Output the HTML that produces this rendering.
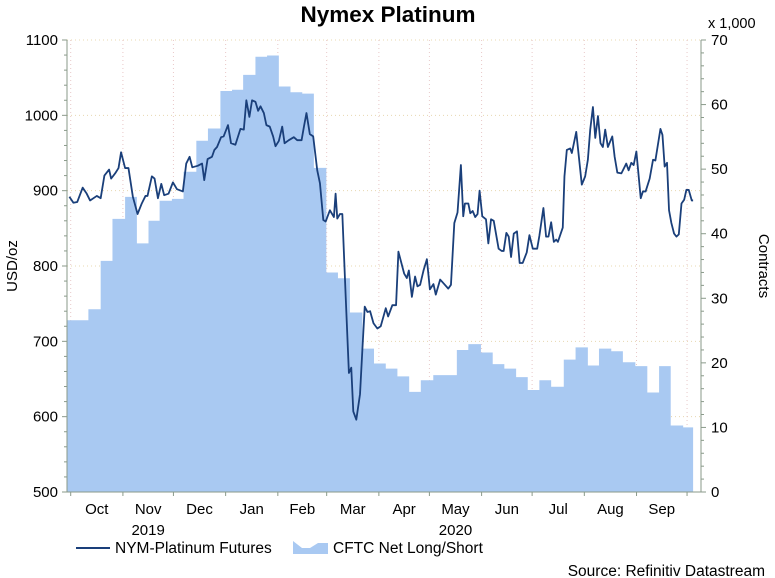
<!DOCTYPE html>
<html><head><meta charset="utf-8"><style>
html,body{margin:0;padding:0;background:#fff;width:775px;height:578px;overflow:hidden}
svg{display:block;font-family:"Liberation Sans",Arial,sans-serif}
</style></head><body>
<svg id="chart" width="775" height="578" viewBox="0 0 775 578">
<text x="388" y="22" text-anchor="middle" font-size="22.5" font-weight="bold" fill="#000">Nymex Platinum</text>
<text x="708" y="28" font-size="14.5" fill="#000">x 1,000</text>
<text transform="translate(17,266) rotate(-90)" text-anchor="middle" font-size="15" fill="#000">USD/oz</text>
<text transform="translate(759,266) rotate(90)" text-anchor="middle" font-size="15" fill="#000">Contracts</text>
<g id="grid"></g>
<g id="area"></g>
<g id="line"></g>
<g id="axes"></g>
<g>
<line x1="76" y1="548" x2="110" y2="548" stroke="#1a3f7a" stroke-width="2"/>
<text x="115" y="553" font-size="15.5" fill="#000">NYM-Platinum Futures</text>
<path d="M293,541 L302,548 L310,548 L318,543 L328,543 L328,554 L293,554 Z" fill="#a9c9f2"/>
<text x="333" y="553" font-size="15.5" fill="#000">CFTC Net Long/Short</text>
</g>
<text x="765" y="576" text-anchor="end" font-size="15.5" fill="#000">Source: Refinitiv Datastream</text>
</svg>
<script>
// day offsets from chart start (~Sep 29 2019)
const priceDays = [1.4,3.8,6.1,9.3,11.7,13.7,17.7,20.0,22.2,25.0,26.2,28.6,30.6,32.1,34.5,36.5,39.1,41.9,44.4,46.6,47.8,50.4,52.0,54.0,56.0,57.7,60.3,62.9,65.3,68.8,70.8,72.8,74.4,77.6,80.2,81.5,83.5,86.1,87.5,89.1,91.5,93.0,95.6,97.4,100.0,103.0,105.0,106.5,108.3,109.9,111.9,113.5,114.9,116.9,118.4,120.4,122.4,123.8,125.8,127.8,129.2,131.7,134.7,136.7,139.3,140.7,142.2,144.2,146.2,148.6,150.2,152.2,153.6,156.1,158.5,159.5,160.5,162.1,163.5,165.5,167.4,168.8,170.0,171.8,174.0,175.4,176.8,178.4,180.0,182.0,184.3,186.3,189.3,190.7,193.2,195.4,196.8,200.2,201.8,203.0,204.8,206.7,208.1,209.7,211.7,213.7,215.5,217.6,219.0,221.6,224.0,226.4,228.0,230.0,231.9,233.9,235.3,236.3,238.3,239.5,240.9,242.4,243.8,245.0,246.6,248.8,250.2,251.8,253.4,256.3,258.1,259.3,260.9,262.3,263.7,265.3,267.2,268.8,270.6,273.0,274.6,276.6,279.2,280.5,282.9,284.5,285.9,287.5,289.1,290.5,291.5,294.4,295.4,296.8,298.8,299.8,302.4,305.7,307.7,309.3,310.7,312.3,313.7,315.3,316.8,318.2,319.6,321.2,323.8,325.2,326.8,329.2,332.1,333.5,335.1,336.5,338.1,340.7,342.0,343.6,346.0,348.0,349.4,352.4,353.6,354.9,356.3,357.5,358.9,360.5,361.9,363.3,364.9,366.5,367.8,369.2,371.0,371.8];
const priceValues = [892,884,885,904,896,887,893,890,920,928,916,923,930,951,930,930,892,869,883,893,893,919,916,890,909,894,896,911,902,899,936,945,931,933,936,914,942,945,954,958,971,972,987,963,961,982,981,1020,998,1020,1018,1006,1012,1003,987,985,972,959,966,985,963,967,971,967,967,985,1003,975,972,927,910,861,859,874,865,896,863,869,869,759,658,665,607,596,630,689,746,739,740,724,717,720,744,733,748,748,819,790,784,794,759,786,773,775,794,809,769,776,762,782,776,770,775,857,871,934,866,883,883,870,873,865,869,900,866,862,830,862,860,823,820,820,844,839,812,843,846,804,804,818,841,823,823,840,877,839,839,858,832,835,832,851,919,954,956,950,978,908,919,941,981,1011,970,999,963,958,981,958,972,945,924,923,936,927,937,934,952,890,899,899,916,941,940,982,974,932,937,874,857,843,839,842,883,888,901,901,887,887];
const cftcStartDays = [0,12.7,20.0,27.0,34.5,41.5,48.4,55.0,62.3,69.2,76.8,83.7,91.1,98.0,104.6,111.9,118.8,125.8,132.7,139.7,146.6,154.0,160.9,168.0,175.4,182.3,189.3,196.2,203.2,210.1,217.5,224.5,231.5,238.3,245.8,252.8,259.7,266.7,273.6,280.5,287.5,295.0,302.0,309.3,315.9,323.2,330.1,337.5,344.6,351.6,358.5,365.9];
const cftcValues = [26.6,28.3,35.8,42.3,45.7,38.5,42.0,45.1,45.4,49.6,54.4,56.3,62.1,62.3,64.6,67.4,67.6,62.8,61.9,61.7,50.2,34.0,33.1,27.8,22.2,19.9,19.1,17.9,15.5,17.3,18.1,18.1,22.0,22.9,21.6,19.8,19.1,17.8,15.8,17.3,16.3,20.5,22.4,19.6,22.2,21.8,20.1,19.5,15.4,19.5,10.3,10.0];
const cftcEndDay = 371.8;
const leftTicks = [500,600,700,800,900,1000,1100];
const rightTicks = [0,10,20,30,40,50,60,70];
const monthLabels = ["Oct","Nov","Dec","Jan","Feb","Mar","Apr","May","Jun","Jul","Aug","Sep"];
const monthStartDays = [2.2,33.2,63.2,94.2,125.2,154.2,185.2,215.2,246.2,276.2,307.2,338.2,368.2];
const yearLabels = ["2019","2020"];
const yearLabelMonth = [1,7];

const NS="http://www.w3.org/2000/svg";
const X0=67, XR=701, YT=40, YB=492;
const xs=d=>X0+d*1.684;
const yL=v=>YB-(v-500)/600*(YB-YT);
const yR=v=>YB-v/70*(YB-YT);
function mk(tag,attrs,parent){const e=document.createElementNS(NS,tag);for(const k in attrs)e.setAttribute(k,attrs[k]);parent.appendChild(e);return e;}
const grid=document.getElementById('grid'),area=document.getElementById('area'),line=document.getElementById('line'),axes=document.getElementById('axes');

leftTicks.forEach(v=>{if(v>500){const g=mk('line',{x1:X0,x2:XR,y1:yL(v),y2:yL(v),stroke:'#e8d8b0','stroke-dasharray':'1,3'},grid);

}});
monthStartDays.forEach(d=>{const g=mk('line',{x1:xs(d),x2:xs(d),y1:YT,y2:YB,stroke:'#e8c8c8','stroke-dasharray':'1,3'},grid);

});

let p=`M${xs(cftcStartDays[0])},${YB}`;
cftcValues.forEach((v,i)=>{const a=xs(cftcStartDays[i]);const b=xs(i+1<cftcStartDays.length?cftcStartDays[i+1]:cftcEndDay);p+=` L${a},${yR(v)} L${b},${yR(v)}`;});
p+=` L${xs(cftcEndDay)},${YB} Z`;
const ap=mk('path',{d:p,fill:'#a9c9f2'},area);



const lp=mk('polyline',{points:priceDays.map((d,i)=>xs(d)+','+yL(priceValues[i])).join(' '),fill:'none',stroke:'#1a3f7a','stroke-width':1.8,'stroke-linejoin':'round'},line);



mk('line',{x1:X0,x2:X0,y1:YT,y2:YB,stroke:'#8a9a8a'},axes);
mk('line',{x1:XR,x2:XR,y1:YT,y2:YB,stroke:'#8a9a8a'},axes);
mk('line',{x1:X0,x2:XR,y1:YB,y2:YB,stroke:'#8a9a8a'},axes);
for(let v=500;v<=1100;v+=20){mk('line',{x1:v%100===0?X0-5:X0-3,x2:X0,y1:yL(v),y2:yL(v),stroke:'#8a9a8a'},axes);}
for(let v=0;v<=70;v+=2){mk('line',{x1:XR,x2:v%10===0?XR+5:XR+3,y1:yR(v),y2:yR(v),stroke:'#8a9a8a'},axes);}
leftTicks.forEach(v=>{const t=mk('text',{x:58,y:yL(v)+5,'text-anchor':'end','font-size':15,fill:'#000'},axes);t.textContent=v;

});
rightTicks.forEach(v=>{const t=mk('text',{x:711,y:yR(v)+5,'font-size':15,fill:'#000'},axes);t.textContent=v;

});
monthStartDays.forEach(d=>{mk('line',{x1:xs(d),x2:xs(d),y1:YB,y2:YB+4,stroke:'#8a9a8a'},axes);});
monthLabels.forEach((m,i)=>{const cx=(xs(monthStartDays[i])+xs(monthStartDays[i+1]))/2;const t=mk('text',{x:cx,y:514,'text-anchor':'middle','font-size':15,fill:'#000'},axes);t.textContent=m;

});
yearLabels.forEach((y,i)=>{const k=yearLabelMonth[i];const cx=(xs(monthStartDays[k])+xs(monthStartDays[k+1]))/2;const t=mk('text',{x:cx,y:535,'text-anchor':'middle','font-size':15,fill:'#000'},axes);t.textContent=y;

});
</script>
</body></html>
